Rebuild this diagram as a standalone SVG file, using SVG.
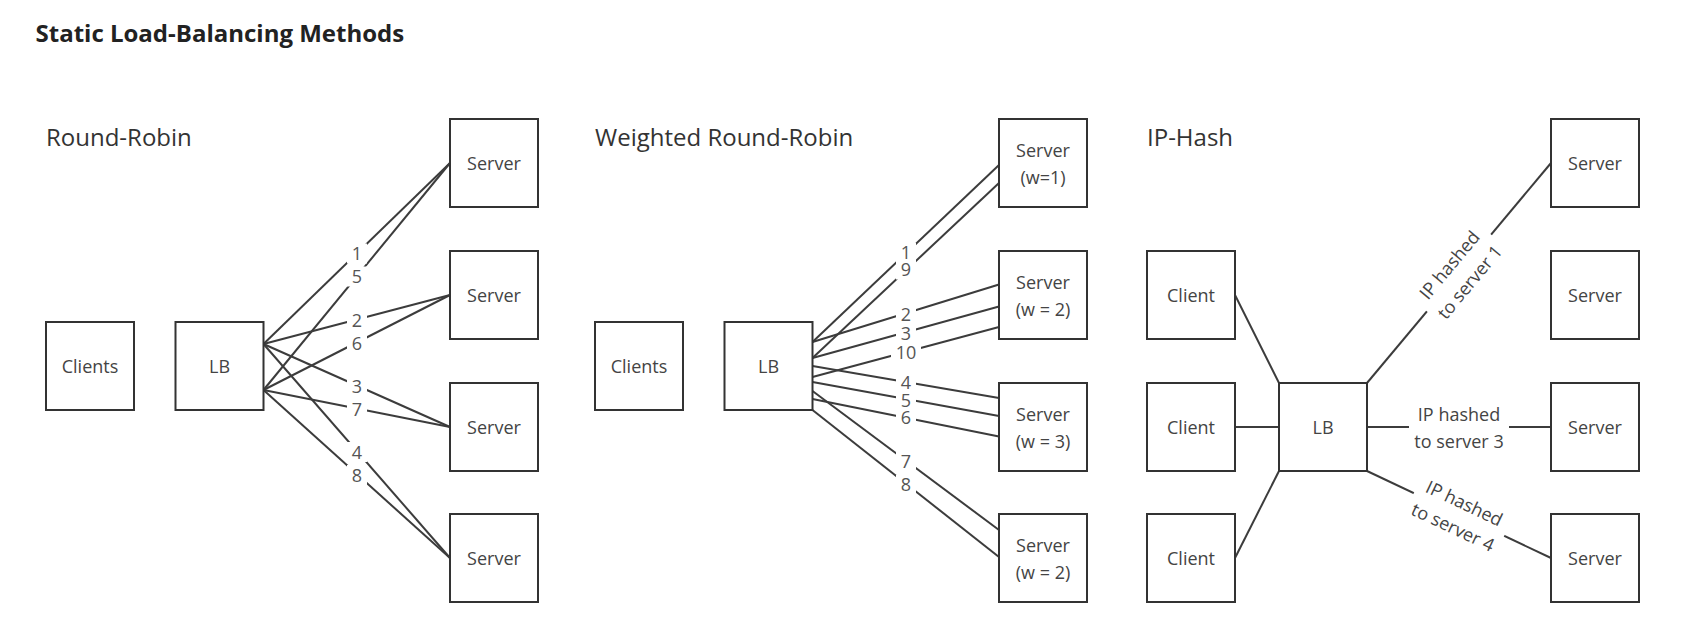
<svg xmlns="http://www.w3.org/2000/svg" width="1685" height="637" viewBox="0 0 1685 637">
<style>
.box{fill:#fff;stroke:#333;stroke-width:2}
.t{font-family:'Open Sans','Noto Sans','Liberation Sans',sans-serif;font-size:18px;fill:#444;text-anchor:middle}
.h{font-family:'Open Sans','Noto Sans','Liberation Sans',sans-serif;font-size:24px;fill:#333}
.title{font-family:'Open Sans','Noto Sans','Liberation Sans',sans-serif;font-size:24px;font-weight:bold;fill:#222}
.c{stroke:#3c3c3c;stroke-width:2;fill:none}
.bg{fill:#fff}
.n{font-family:'Open Sans','Noto Sans','Liberation Sans',sans-serif;font-size:18px;fill:#555;text-anchor:middle}
</style>
<rect width="1685" height="637" fill="#fff"/>
<text class="title" x="35.5" y="42.3">Static Load-Balancing Methods</text>
<text class="h" x="46" y="145.5">Round-Robin</text>
<text class="h" x="595" y="145.5">Weighted Round-Robin</text>
<text class="h" x="1147" y="145.5">IP-Hash</text>

<g id="connectors">
  <!-- Round-Robin -->
  <line class="c" x1="263.5" y1="344" x2="450" y2="163"/>
  <line class="c" x1="263.5" y1="344" x2="450" y2="295"/>
  <line class="c" x1="263.5" y1="344" x2="450" y2="427"/>
  <line class="c" x1="263.5" y1="344" x2="450" y2="558"/>
  <line class="c" x1="263.5" y1="390" x2="450" y2="163"/>
  <line class="c" x1="263.5" y1="390" x2="450" y2="295"/>
  <line class="c" x1="263.5" y1="390" x2="450" y2="427"/>
  <line class="c" x1="263.5" y1="390" x2="450" y2="558"/>
  <!-- Weighted Round-Robin -->
  <line class="c" x1="812.5" y1="342" x2="999" y2="165"/>
  <line class="c" x1="812.5" y1="358" x2="999" y2="183"/>
  <line class="c" x1="812.5" y1="342" x2="999" y2="284.5"/>
  <line class="c" x1="812.5" y1="358" x2="999" y2="306.5"/>
  <line class="c" x1="812.5" y1="377" x2="999" y2="327"/>
  <line class="c" x1="812.5" y1="366" x2="999" y2="398"/>
  <line class="c" x1="812.5" y1="382" x2="999" y2="416"/>
  <line class="c" x1="812.5" y1="399" x2="999" y2="436.5"/>
  <line class="c" x1="812.5" y1="391" x2="999" y2="530"/>
  <line class="c" x1="812.5" y1="410" x2="999" y2="557"/>
  <!-- IP-Hash -->
  <line class="c" x1="1235" y1="295" x2="1279" y2="383"/>
  <line class="c" x1="1235" y1="427" x2="1279" y2="427"/>
  <line class="c" x1="1235" y1="558" x2="1279" y2="471"/>
  <line class="c" x1="1367" y1="383" x2="1551" y2="163"/>
  <line class="c" x1="1367" y1="427" x2="1551" y2="427"/>
  <line class="c" x1="1367" y1="471" x2="1551" y2="558"/>

  <!-- labels RR -->
  <g id="rr-labels">
    <rect class="bg" x="347" y="243.5" width="20" height="20"/><text class="n" x="357" y="260">1</text>
    <rect class="bg" x="347" y="266.5" width="20" height="20"/><text class="n" x="357" y="283">5</text>
    <rect class="bg" x="347" y="310" width="20" height="20"/><text class="n" x="357" y="326.5">2</text>
    <rect class="bg" x="347" y="333" width="20" height="20"/><text class="n" x="357" y="349.5">6</text>
    <rect class="bg" x="347" y="376" width="20" height="20"/><text class="n" x="357" y="392.5">3</text>
    <rect class="bg" x="347" y="399" width="20" height="20"/><text class="n" x="357" y="415.5">7</text>
    <rect class="bg" x="347" y="442" width="20" height="20"/><text class="n" x="357" y="458.5">4</text>
    <rect class="bg" x="347" y="465" width="20" height="20"/><text class="n" x="357" y="481.5">8</text>
  </g>
  <!-- labels WRR -->
  <g id="wrr-labels">
    <rect class="bg" x="896" y="243" width="20" height="19"/><text class="n" x="906" y="259">1</text>
    <rect class="bg" x="896" y="260.5" width="20" height="19"/><text class="n" x="906" y="276">9</text>
    <rect class="bg" x="896" y="305" width="20" height="19"/><text class="n" x="906" y="321">2</text>
    <rect class="bg" x="896" y="323.5" width="20" height="19"/><text class="n" x="906" y="339.5">3</text>
    <rect class="bg" x="891" y="343" width="30" height="19"/><text class="n" x="906" y="359">10</text>
    <rect class="bg" x="896" y="373" width="20" height="19"/><text class="n" x="906" y="389">4</text>
    <rect class="bg" x="896" y="390.5" width="20" height="19"/><text class="n" x="906" y="406.5">5</text>
    <rect class="bg" x="896" y="408" width="20" height="19"/><text class="n" x="906" y="424">6</text>
    <rect class="bg" x="896" y="452" width="20" height="19"/><text class="n" x="906" y="468">7</text>
    <rect class="bg" x="896" y="475" width="20" height="19"/><text class="n" x="906" y="491">8</text>
  </g>
  <!-- labels IP-Hash -->
  <g id="iph-label-1" transform="translate(1459,273) rotate(-50.1)">
    <rect class="bg" x="-50" y="-22" width="100" height="48"/>
    <text class="t" x="0" y="-6">IP hashed</text>
    <text class="t" x="0" y="20.5">to server 1</text>
  </g>
  <g id="iph-label-3" transform="translate(1459,427)">
    <rect class="bg" x="-50" y="-22" width="100" height="48"/>
    <text class="t" x="0" y="-6">IP hashed</text>
    <text class="t" x="0" y="20.5">to server 3</text>
  </g>
  <g id="iph-label-4" transform="translate(1459,514.5) rotate(25.3)">
    <rect class="bg" x="-50" y="-22" width="100" height="48"/>
    <text class="t" x="0" y="-6">IP hashed</text>
    <text class="t" x="0" y="20.5">to server 4</text>
  </g>
</g>

<!-- Round-Robin nodes -->
<g id="rr-clients"><rect class="box" x="46" y="322" width="88" height="88"/><text class="t" x="90" y="373">Clients</text></g>
<g id="rr-lb"><rect class="box" x="175.5" y="322" width="88" height="88"/><text class="t" x="219.5" y="373">LB</text></g>
<g id="rr-server1"><rect class="box" x="450" y="119" width="88" height="88"/><text class="t" x="494" y="170">Server</text></g>
<g id="rr-server2"><rect class="box" x="450" y="251" width="88" height="88"/><text class="t" x="494" y="302">Server</text></g>
<g id="rr-server3"><rect class="box" x="450" y="383" width="88" height="88"/><text class="t" x="494" y="434">Server</text></g>
<g id="rr-server4"><rect class="box" x="450" y="514" width="88" height="88"/><text class="t" x="494" y="565">Server</text></g>

<!-- Weighted Round-Robin nodes -->
<g id="wrr-clients"><rect class="box" x="595" y="322" width="88" height="88"/><text class="t" x="639" y="373">Clients</text></g>
<g id="wrr-lb"><rect class="box" x="724.5" y="322" width="88" height="88"/><text class="t" x="768.5" y="373">LB</text></g>
<g id="wrr-server1"><rect class="box" x="999" y="119" width="88" height="88"/><text class="t" x="1043" y="157">Server</text><text class="t" x="1043" y="183.5">(w=1)</text></g>
<g id="wrr-server2"><rect class="box" x="999" y="251" width="88" height="88"/><text class="t" x="1043" y="289">Server</text><text class="t" x="1043" y="315.5">(w = 2)</text></g>
<g id="wrr-server3"><rect class="box" x="999" y="383" width="88" height="88"/><text class="t" x="1043" y="421">Server</text><text class="t" x="1043" y="447.5">(w = 3)</text></g>
<g id="wrr-server4"><rect class="box" x="999" y="514" width="88" height="88"/><text class="t" x="1043" y="552">Server</text><text class="t" x="1043" y="578.5">(w = 2)</text></g>

<!-- IP-Hash nodes -->
<g id="iph-client1"><rect class="box" x="1147" y="251" width="88" height="88"/><text class="t" x="1191" y="302">Client</text></g>
<g id="iph-client2"><rect class="box" x="1147" y="383" width="88" height="88"/><text class="t" x="1191" y="434">Client</text></g>
<g id="iph-client3"><rect class="box" x="1147" y="514" width="88" height="88"/><text class="t" x="1191" y="565">Client</text></g>
<g id="iph-lb"><rect class="box" x="1279" y="383" width="88" height="88"/><text class="t" x="1323" y="434">LB</text></g>
<g id="iph-server1"><rect class="box" x="1551" y="119" width="88" height="88"/><text class="t" x="1595" y="170">Server</text></g>
<g id="iph-server2"><rect class="box" x="1551" y="251" width="88" height="88"/><text class="t" x="1595" y="302">Server</text></g>
<g id="iph-server3"><rect class="box" x="1551" y="383" width="88" height="88"/><text class="t" x="1595" y="434">Server</text></g>
<g id="iph-server4"><rect class="box" x="1551" y="514" width="88" height="88"/><text class="t" x="1595" y="565">Server</text></g>
</svg>
